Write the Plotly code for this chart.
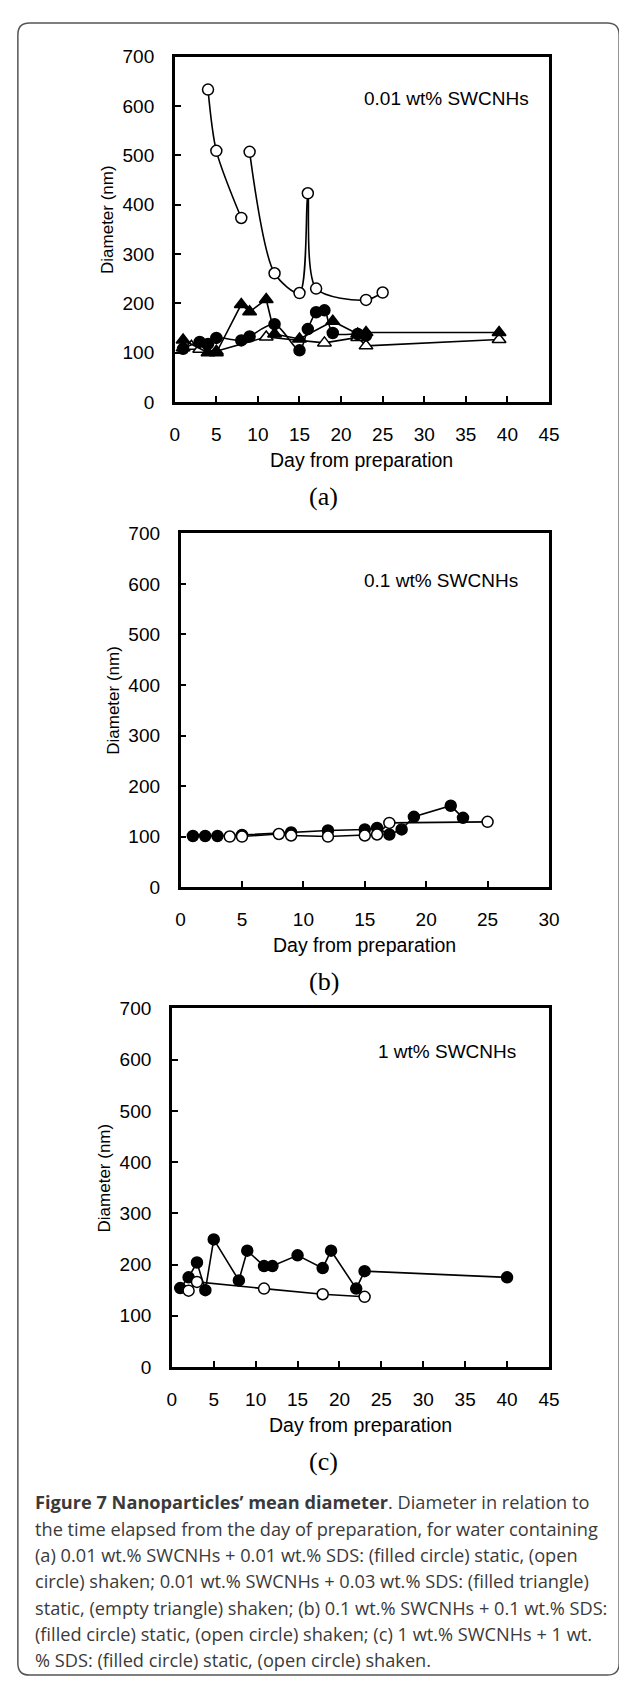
import plotly.graph_objects as go

W, H = 627, 1683

# ---------------- data ----------------
# Panel (a) 0.01 wt% SWCNHs
a_fc_day = [1, 3, 4, 5, 8, 9, 12, 15, 16, 17, 18, 19, 22, 23]
a_fc_d = [108, 122, 118, 130, 125, 133, 158, 105, 148, 182, 186, 140, 138, 135]
a_oc_day = [4, 5, 8, None, 9, 12, 15, 16, 17, 23, 25]
a_oc_d = [633, 509, 373, None, 507, 261, 221, 423, 230, 207, 222]
a_ft_day = [1, 4, 5, 8, 9, 11, 12, 15, 19, 22, 23, 39]
a_ft_d = [126, 100, 100, 198, 183, 208, 138, 128, 164, 138, 141, 141]
a_ot_day = [1, 2, 3, 5, 11, 18, 22, 23, 39]
a_ot_d = [110, 113, 107, 103, 132, 120, 131, 114, 127]

# Panel (b) 0.1 wt% SWCNHs
b_fc_day = [1, 2, 3, 5, 9, 12, 15, 16, 17, 18, 19, 22, 23]
b_fc_d = [101, 101, 101, 103, 108, 112, 114, 117, 104, 114, 139, 161, 137]
b_oc_day = [4, 5, 8, 9, 12, 15, 16, 17, 25]
b_oc_d = [100, 100, 105, 102, 100, 102, 104, 127, 129]

# Panel (c) 1 wt% SWCNHs
c_fc_day = [1, 2, 3, 4, 5, 8, 9, 11, 12, 15, 18, 19, 22, 23, 40]
c_fc_d = [154, 175, 204, 150, 249, 169, 227, 197, 197, 218, 193, 227, 153, 187, 175]
c_oc_day = [2, 3, 11, 18, 23]
c_oc_d = [149, 166, 153, 142, 137]

y_ticks = [0, 100, 200, 300, 400, 500, 600, 700]
panel_labels = ["(a)", "(b)", "(c)"]
panel_notes = ["0.01 wt% SWCNHs", "0.1 wt% SWCNHs", "1 wt% SWCNHs"]
x_title = "Day from preparation"
y_title = "Diameter (nm)"
caption_lines = [
    "<b>Figure 7 Nanoparticles’ mean diameter</b>. Diameter in relation to",
    "the time elapsed from the day of preparation, for water containing",
    "(a) 0.01 wt.% SWCNHs + 0.01 wt.% SDS: (filled circle) static, (open",
    "circle) shaken; 0.01 wt.% SWCNHs + 0.03 wt.% SDS: (filled triangle)",
    "static, (empty triangle) shaken; (b) 0.1 wt.% SWCNHs + 0.1 wt.% SDS:",
    "(filled circle) static, (open circle) shaken; (c) 1 wt.% SWCNHs + 1 wt.",
    "% SDS: (filled circle) static, (open circle) shaken.",
]

# ---------------- layout helpers ----------------
def PX(x):
    return x / W

def PY(y):
    return 1 - y / H

# pixel boxes of the three plots: (left, right, top, bottom)
boxes = [(166, 550, 39, 389), (172, 550, 522, 880), (163, 550, 1003, 1366)]
xmax = [45, 30, 45]

FONT = "Liberation Sans, Arial, sans-serif"
fig = go.Figure()

def add(day, d, xa, ya, symbol, fill, size=11, shape="linear"):
    fig.add_trace(go.Scatter(
        x=day, y=d, xaxis=xa, yaxis=ya, mode="lines+markers",
        line=dict(color="black", width=1.6, shape=shape, smoothing=0.8),
        marker=dict(symbol=symbol, size=size, color=fill,
                    line=dict(color="black", width=1.5)),
        connectgaps=False, showlegend=False, cliponaxis=False))

# panel a
add(a_ot_day, a_ot_d, "x", "y", "triangle-up", "white", 12)
add(a_ft_day, a_ft_d, "x", "y", "triangle-up", "black", 12)
add(a_fc_day, a_fc_d, "x", "y", "circle", "black", 11, "spline")
add(a_oc_day, a_oc_d, "x", "y", "circle", "white", 11, "spline")
# panel b
add(b_fc_day, b_fc_d, "x2", "y2", "circle", "black", 11)
add(b_oc_day, b_oc_d, "x2", "y2", "circle", "white", 11)
# panel c
add(c_fc_day, c_fc_d, "x3", "y3", "circle", "black", 11)
add(c_oc_day, c_oc_d, "x3", "y3", "circle", "white", 11)

layout = dict(width=W, height=H, margin=dict(l=0, r=0, t=0, b=0),
              paper_bgcolor="white", plot_bgcolor="white", showlegend=False)
annotations = []
for i, (l, r, t, b) in enumerate(boxes):
    sfx = "" if i == 0 else str(i + 1)
    common = dict(showline=True, linewidth=2.5, linecolor="black", mirror=True,
                  ticks="inside", ticklen=6, tickwidth=2, tickcolor="black",
                  showgrid=False, zeroline=False,
                  tickfont=dict(family=FONT, size=19, color="black"))
    layout["xaxis" + sfx] = dict(domain=[PX(l), PX(r)], range=[0, xmax[i]], dtick=5,
                                 anchor="y" + sfx, ticklabelstandoff=13, **common)
    layout["yaxis" + sfx] = dict(domain=[PY(b), PY(t)], range=[0, 700], tickvals=y_ticks,
                                 anchor="x" + sfx, ticklabelstandoff=14, **common)
    annotations.append(dict(text=x_title, x=PX((l + r) / 2), y=PY(b + 59), xref="paper", yref="paper",
                            showarrow=False, xanchor="center", yanchor="middle",
                            font=dict(family=FONT, size=19.5, color="black")))
    annotations.append(dict(text=y_title, x=PX(l - 69), y=PY((t + b) / 2 - 10), xref="paper", yref="paper",
                            showarrow=False, xanchor="center", yanchor="middle", textangle=-90,
                            font=dict(family=FONT, size=17, color="black")))
    annotations.append(dict(text=panel_labels[i], x=PX(319), y=PY(b + 96), xref="paper", yref="paper",
                            showarrow=False, xanchor="center", yanchor="middle",
                            font=dict(family="Liberation Serif, Times New Roman, serif", size=26, color="black")))
    note_left = [358, 358, 373][i]
    note_y = [82, 570, 1047][i]
    annotations.append(dict(text=panel_notes[i], x=PX(note_left), y=PY(note_y), xref="paper", yref="paper",
                            showarrow=False, xanchor="left", yanchor="middle",
                            font=dict(family=FONT, size=19, color="black")))

for k, line in enumerate(caption_lines):
    annotations.append(dict(text=line, x=PX(21), y=PY(1503 + k * 26.7), xref="paper", yref="paper",
                            showarrow=False, xanchor="left", yanchor="middle", align="left",
                            font=dict(family="Open Sans, Noto Sans, sans-serif", size=18.2, color="#3a3a3a")))

layout["annotations"] = annotations

# rounded outer frame
x0, x1, y0, y1, rr = 5, 622, 5, 1678, 12
path = (f"M {PX(x0 + rr)},{PY(y0)} L {PX(x1 - rr)},{PY(y0)} Q {PX(x1)},{PY(y0)} {PX(x1)},{PY(y0 + rr)} "
        f"L {PX(x1)},{PY(y1 - rr)} Q {PX(x1)},{PY(y1)} {PX(x1 - rr)},{PY(y1)} "
        f"L {PX(x0 + rr)},{PY(y1)} Q {PX(x0)},{PY(y1)} {PX(x0)},{PY(y1 - rr)} "
        f"L {PX(x0)},{PY(y0 + rr)} Q {PX(x0)},{PY(y0)} {PX(x0 + rr)},{PY(y0)} Z")
layout["shapes"] = [dict(type="path", path=path, xref="paper", yref="paper",
                         line=dict(color="#555555", width=1.5))]

fig.update_layout(**layout)
fig.write_html("out.html")
